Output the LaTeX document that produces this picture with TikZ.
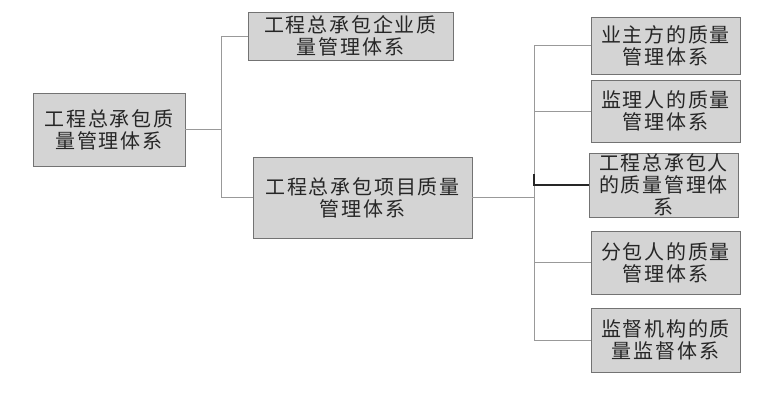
\documentclass[tikz,border=0pt]{standalone}
\usepackage{fontspec}
\newfontfamily\cjk[LetterSpace=9]{Noto Sans CJK SC}
\begin{document}
\begin{tikzpicture}[x=1pt,y=-1pt,
  box/.style={draw=black!55,fill=black!17,line width=0.9pt,inner sep=0pt,
    align=center,font=\cjk\fontsize{20}{22}\selectfont,text=black!85},
  conn/.style={draw=black!40,line width=0.9pt},
  darkconn/.style={draw=black!85,line width=1.1pt}]
\useasboundingbox[fill=white] (0,0) rectangle (763,401);
\node[box,minimum width=152pt,minimum height=73pt] (root) at (109,129.5) {工程总承包质\\量管理体系};
\node[box,minimum width=205pt,minimum height=48pt] (a) at (350.5,36) {工程总承包企业质\\量管理体系};
\node[box,minimum width=219pt,minimum height=81pt] (b) at (362.5,197.5) {工程总承包项目质量\\管理体系};
\node[box,minimum width=149pt,minimum height=57pt] (r1) at (665.5,45.5) {业主方的质量\\管理体系};
\node[box,minimum width=149pt,minimum height=62pt] (r2) at (665.5,111) {监理人的质量\\管理体系};
\node[box,minimum width=149pt,minimum height=64pt] (r3) at (663.5,185) {工程总承包人\\的质量管理体\\系};
\node[box,minimum width=149pt,minimum height=63pt] (r4) at (665.5,262.5) {分包人的质量\\管理体系};
\node[box,minimum width=149pt,minimum height=64pt] (r5) at (665.5,340) {监督机构的质\\量监督体系};
\coordinate (j1) at (221,129.5);
\coordinate (j2) at (534,197.5);
\coordinate (k3) at (534,174);
\draw[conn] (root.east) -- (j1);
\draw[conn] (j1) |- (a.west);
\draw[conn] (j1) |- (b.west);
\draw[conn] (b.east) -- (j2);
\draw[conn] (j2) |- (r1.west);
\draw[conn] (j2) |- (r2.west);
\draw[conn] (j2) |- (r4.west);
\draw[conn] (j2) |- (r5.west);
\draw[darkconn] (k3) |- (r3.west);
\end{tikzpicture}
\end{document}
